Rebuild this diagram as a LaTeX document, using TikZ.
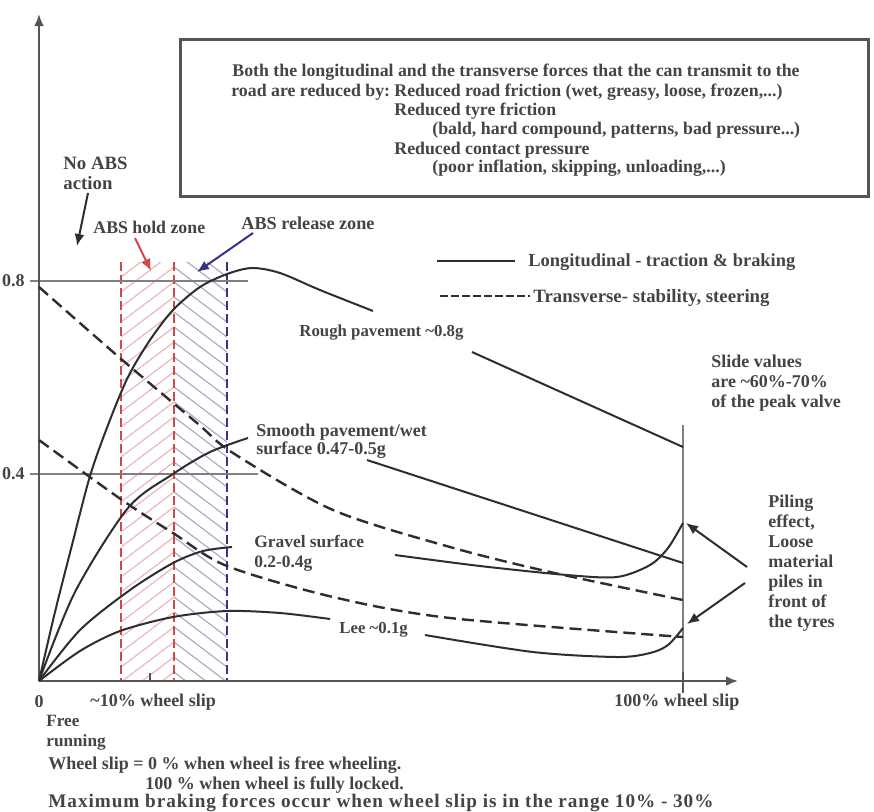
\documentclass[tikz,border=0pt]{standalone}
\usepackage{fontspec}
\setmainfont{Liberation Serif}
\usetikzlibrary{arrows.meta,positioning}
\definecolor{axisgray}{HTML}{555555}
\definecolor{curvegray}{HTML}{2E2E2E}
\definecolor{textgray}{HTML}{444444}
\definecolor{holdred}{HTML}{D04848}
\definecolor{releaseblue}{HTML}{343488}
\definecolor{hatchpink}{HTML}{EDB8B8}
\definecolor{hatchblue}{HTML}{ABABC8}

\begin{document}
\begin{tikzpicture}[x=0.5pt, y=-0.5pt,
        axis/.style={draw=axisgray, line width=1.4pt, -{Latex[length=6pt, width=5pt]}},
        refline/.style={draw=gray, line width=0.6pt},
        long/.style={draw=curvegray, line width=1pt},
        trans/.style={draw=curvegray, line width=1.2pt, dash pattern=on 6pt off 3pt},
        zoneline/.style={line width=1.3pt, dash pattern=on 4.5pt off 2pt},
        pointer/.style={line width=1pt, -{Latex[length=6pt, width=5pt]}},
        lbl/.style={font=\fontsize{8.9}{9.6}\selectfont\bfseries, text=textgray, inner sep=1pt, align=left},
        notelbl/.style={font=\fontsize{9}{10}\selectfont\bfseries, text=textgray, inner sep=1pt, align=left},
        infobox/.style={rectangle, draw=axisgray, line width=1.5pt, minimum width=344pt, minimum height=78.5pt}
    ]
        \useasboundingbox[fill=white] (0,0) rectangle (874,811);

        % Explanation box
        \node[infobox] (info) at (524,117.5) {};
        \node[lbl, anchor=west] (info1) at (230,72) {Both the longitudinal and the transverse forces that the can transmit to the};
        \node[lbl, anchor=west] (info2) at (229,92) {road are reduced by:};
        \node[lbl, anchor=west] (info2b) at (392,92) {Reduced road friction (wet, greasy, loose, frozen,...)};
        \node[lbl, anchor=west] (info3) at (392,111) {Reduced tyre friction};
        \node[lbl, anchor=west] (info4) at (430,130) {(bald, hard compound, patterns, bad pressure...)};
        \node[lbl, anchor=west] (info5) at (392,150) {Reduced contact pressure};
        \node[lbl, anchor=west] (info6) at (430,168) {(poor inflation, skipping, unloading,...)};

        % ABS zones
        \begin{scope}
            \clip (121,262) rectangle (174,681);
            \foreach \k in {0,...,32}
                \draw[hatchpink, line width=0.6pt] (121,262+\k*15) -- ++(53,-40);
        \end{scope}
        \begin{scope}
            \clip (174,262) rectangle (227,681);
            \foreach \k in {0,...,32}
                \draw[hatchblue, line width=0.6pt] (174,222+\k*15) -- ++(53,40);
        \end{scope}
        \draw[zoneline, holdred] (121,262) -- (121,681);
        \draw[zoneline, holdred] (174,262) -- (174,681);
        \draw[zoneline, releaseblue] (227,262) -- (227,681);

        % Reference levels
        \draw[refline] (30,281) -- (248,281);
        \draw[refline] (30,474) -- (258,474);
        \node[notelbl, anchor=east, inner sep=0pt] (lvl8) at (25,281) {0.8};
        \node[notelbl, anchor=east, inner sep=0pt] (lvl4) at (25,474) {0.4};
        \draw[refline] (683,425) -- (683,681);

        % Axes
        \coordinate (origin) at (39,681);
        \coordinate (ytop) at (39,14);
        \coordinate (xend) at (738,681);
        \draw[axis] (origin) -- (ytop);
        \draw[axis] (origin) -- (xend);
        \draw[draw=axisgray, line width=1.2pt] (150,673) -- (150,681);
        \draw[draw=axisgray, line width=1.2pt] (683,672) -- (683,693);

        % Longitudinal curves
        \draw[long] plot[smooth] coordinates {(39,681) (55,612) (72,545) (90,476) (108,425) (128,377) (150,340) (173,310) (200,287) (227,274) (252,268) (280,273) (320,290) (373,311)};
        \draw[long] (472,352) -- (683,447);
        \draw[long] plot[smooth] coordinates {(39,681) (75,592) (128,508) (173,474) (210,452) (248,438)};
        \draw[long] (367,460) -- (683,563);
        \draw[long] plot[smooth] coordinates {(39,681) (80,630) (130,590) (173,563) (203,551) (232,547)};
        \draw[long] plot[smooth] coordinates {(395,555) (480,566) (567,575) (617,577) (650,565) (668,548) (683,523)};
        \draw[long] plot[smooth] coordinates {(39,681) (80,651) (120,631) (173,617) (227,611) (280,613) (330,619)};
        \draw[long] plot[smooth] coordinates {(425,635) (533,652) (617,657) (650,653) (668,645) (683,628)};

        % Transverse curves
        \draw[trans] plot[smooth] coordinates {(39,287) (120,358) (197,423) (233,453) (333,510) (450,547) (550,572) (683,600)};
        \draw[trans] plot[smooth] coordinates {(39,440) (122,500) (173,533) (227,566) (333,597) (450,618) (683,637)};

        % Curve labels
        \node[lbl, anchor=west, font=\fontsize{8.4}{9}\selectfont\bfseries] (rough) at (297,333) {Rough pavement \textasciitilde 0.8g};
        \node[lbl, anchor=west, font=\fontsize{9}{9}\selectfont\bfseries] (smooth) at (254,441) {Smooth pavement/wet\\surface 0.47-0.5g};
        \node[lbl, anchor=west, font=\fontsize{8.7}{10}\selectfont\bfseries] (gravel) at (252,553) {Gravel surface\\0.2-0.4g};
        \node[lbl, anchor=west, font=\fontsize{8.4}{9}\selectfont\bfseries] (ice) at (337,630) {Lee \textasciitilde 0.1g};
        \node[lbl, anchor=west, font=\fontsize{9}{10}\selectfont\bfseries] (slide) at (709,383) {Slide values\\are \textasciitilde 60\%-70\%\\of the peak valve};
        \node[lbl, anchor=west, font=\fontsize{9}{10}\selectfont\bfseries] (piling) at (766,563) {Piling\\effect,\\Loose\\material\\piles in\\front of\\the tyres};

        % Legend
        \coordinate (leglongstart) at (437,261);
        \coordinate (leglongend) at (515,261);
        \coordinate (legtransstart) at (440,296);
        \coordinate (legtransend) at (530,296);
        \node[lbl, anchor=west, font=\fontsize{9.2}{10}\selectfont\bfseries] (leglong) at (526,262) {Longitudinal - traction \& braking};
        \node[lbl, anchor=west, font=\fontsize{9.4}{10}\selectfont\bfseries] (legtrans) at (531,298) {Transverse- stability, steering};
        \draw[long] (leglongstart) -- (leglongend);
        \draw[draw=curvegray, line width=1.2pt, dash pattern=on 4pt off 1.5pt] (legtransstart) -- (legtransend);

        % ABS annotations
        \node[lbl, anchor=west, font=\fontsize{9.4}{10}\selectfont\bfseries] (noabs) at (61,173) {No ABS\\action};
        \node[lbl, anchor=west] (hold) at (91,227) {ABS hold zone};
        \node[lbl, anchor=west, font=\fontsize{9.1}{10}\selectfont\bfseries] (release) at (239,223) {ABS release zone};
        \coordinate (noabsfrom) at (88,193);
        \coordinate (noabstip) at (77,246);
        \coordinate (holdfrom) at (135,238);
        \coordinate (holdtip) at (151,271);
        \coordinate (releasefrom) at (253,233);
        \coordinate (releasetip) at (197,272);
        \draw[pointer, draw=curvegray, fill=curvegray] (noabsfrom) -- (noabstip);
        \draw[pointer, draw=holdred, fill=holdred] (holdfrom) -- (holdtip);
        \draw[pointer, draw=releaseblue, fill=releaseblue] (releasefrom) -- (releasetip);

        % Piling arrows
        \coordinate (pilefrom1) at (747,567);
        \coordinate (pilefrom2) at (745,583);
        \coordinate (pilegravel) at (686,523);
        \coordinate (pileice) at (687,624);
        \draw[pointer, draw=curvegray] (pilefrom1) -- (pilegravel);
        \draw[pointer, draw=curvegray] (pilefrom2) -- (pileice);

        % Axis labels and notes
        \node[notelbl] (zero) at (39,702) {0};
        \node[notelbl, anchor=west] (tenpct) at (88,702) {\textasciitilde 10\% wheel slip};
        \node[notelbl, anchor=west] (hundredpct) at (612,702) {100\% wheel slip};
        \node[notelbl, anchor=west, font=\fontsize{8.6}{10}\selectfont\bfseries] (free) at (44,733) {Free\\running};
        \node[notelbl, anchor=west] (note1) at (46,765) {Wheel slip = 0 \% when wheel is free wheeling.};
        \node[notelbl, anchor=west] (note2) at (143,785) {100 \% when wheel is fully locked.};
        \node[notelbl, anchor=west, font=\fontsize{9.6}{10}\selectfont\bfseries\addfontfeatures{LetterSpace=5}] (note3) at (46,803) {Maximum braking forces occur when wheel slip is in the range 10\% - 30\%};
    \end{tikzpicture}
\end{document}
